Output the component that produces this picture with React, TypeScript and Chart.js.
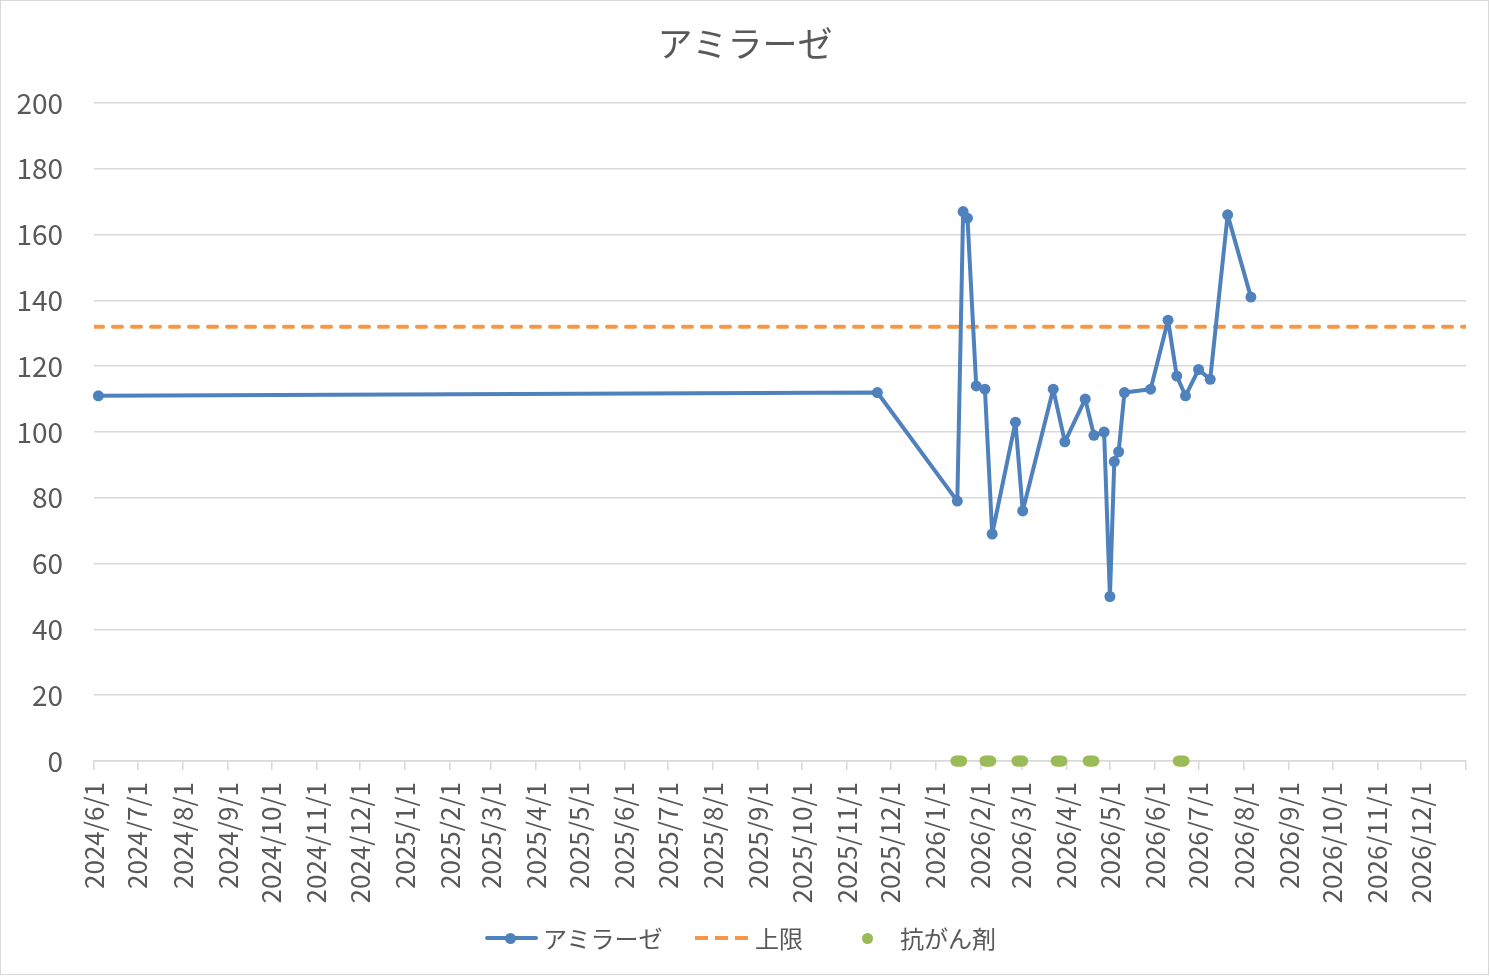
import { useEffect, useRef } from "react";
import { Chart, registerables } from "chart.js";

Chart.register(...registerables);

// アミラーゼ measurements
const amylaseDates = [
  "2024/6/4", "2025/11/22", "2026/1/16", "2026/1/20", "2026/1/23", "2026/1/29",
  "2026/2/4", "2026/2/9", "2026/2/25", "2026/3/2", "2026/3/23", "2026/3/31",
  "2026/4/14", "2026/4/20", "2026/4/27", "2026/5/1", "2026/5/4", "2026/5/7",
  "2026/5/11", "2026/5/29", "2026/6/10", "2026/6/16", "2026/6/22", "2026/7/1",
  "2026/7/9", "2026/7/21", "2026/8/6",
];
const amylaseValues = [
  111, 112, 79, 167, 165, 114,
  113, 69, 103, 76, 113, 97,
  110, 99, 100, 50, 91, 94,
  112, 113, 134, 117, 111, 119,
  116, 166, 141,
];

// 上限
const upperLimit = 132;

// 抗がん剤 administration days (plotted at 0)
const chemoDates = [
  "2026/1/15", "2026/1/16", "2026/1/17", "2026/1/18", "2026/1/19",
  "2026/2/4", "2026/2/5", "2026/2/6", "2026/2/7", "2026/2/8",
  "2026/2/26", "2026/2/27", "2026/2/28", "2026/3/1", "2026/3/2",
  "2026/3/25", "2026/3/26", "2026/3/27", "2026/3/28", "2026/3/29",
  "2026/4/16", "2026/4/17", "2026/4/18", "2026/4/19", "2026/4/20",
  "2026/6/17", "2026/6/18", "2026/6/19", "2026/6/20", "2026/6/21",
];

const monthTicks = [
  "2024/6/1", "2024/7/1", "2024/8/1", "2024/9/1", "2024/10/1", "2024/11/1", "2024/12/1",
  "2025/1/1", "2025/2/1", "2025/3/1", "2025/4/1", "2025/5/1", "2025/6/1", "2025/7/1",
  "2025/8/1", "2025/9/1", "2025/10/1", "2025/11/1", "2025/12/1",
  "2026/1/1", "2026/2/1", "2026/3/1", "2026/4/1", "2026/5/1", "2026/6/1", "2026/7/1",
  "2026/8/1", "2026/9/1", "2026/10/1", "2026/11/1", "2026/12/1",
];
const axisStart = "2024/6/1";
const axisEnd = "2027/1/1";

const toDay = (s: string) => {
  const [y, m, d] = s.split("/").map(Number);
  const [y0, m0, d0] = axisStart.split("/").map(Number);
  return (Date.UTC(y, m - 1, d) - Date.UTC(y0, m0 - 1, d0)) / 86400000;
};

const FONT = "'Noto Sans CJK JP', 'Noto Sans', sans-serif";
const TEXT = "#595959";
const BLUE = "#4F81BD";
const ORANGE = "#F79646";
const GREEN = "#9BBB59";

export default function App() {
  const chartRef = useRef<HTMLCanvasElement>(null);
  const chartInstance = useRef<Chart | null>(null);

  useEffect(() => {
    if (!chartRef.current) return;
    if (chartInstance.current) chartInstance.current.destroy();

    const endDay = toDay(axisEnd);

    chartInstance.current = new Chart(chartRef.current, {
      type: "line",
      data: {
        datasets: [
          {
            label: "アミラーゼ",
            data: amylaseDates.map((d, i) => ({ x: toDay(d), y: amylaseValues[i] })),
            borderColor: BLUE,
            backgroundColor: BLUE,
            borderWidth: 4,
            borderJoinStyle: "round",
            borderCapStyle: "round",
            pointRadius: 5.5,
            pointBackgroundColor: BLUE,
            pointBorderWidth: 0,
            tension: 0,
            clip: false,
          },
          {
            label: "上限",
            data: [
              { x: 0, y: upperLimit },
              { x: endDay, y: upperLimit },
            ],
            borderColor: ORANGE,
            borderWidth: 4,
            borderDash: [9, 10],
            borderCapStyle: "round",
            pointRadius: 0,
          },
          {
            label: "抗がん剤",
            data: chemoDates.map((d) => ({ x: toDay(d), y: 0 })),
            showLine: false,
            pointRadius: 5.5,
            pointBorderWidth: 0,
            pointBackgroundColor: GREEN,
            backgroundColor: GREEN,
            borderColor: GREEN,
            clip: false,
          },
        ],
      },
      options: {
        responsive: true,
        maintainAspectRatio: false,
        animation: false,
        layout: { padding: 0 },
        plugins: {
          legend: { display: false },
          tooltip: { enabled: false },
          title: {
            display: true,
            text: "アミラーゼ",
            color: TEXT,
            font: { family: FONT, size: 35, weight: "normal" },
            padding: { top: 23, bottom: 38 },
          },
        },
        scales: {
          x: {
            type: "linear",
            min: 0,
            max: endDay,
            afterBuildTicks: (scale: any) => {
              scale.ticks = [...monthTicks, axisEnd].map((l) => ({ value: toDay(l) }));
            },
            afterFit: (scale: any) => {
              scale.height = 215;
              scale.paddingLeft = 0;
              scale.paddingRight = 24;
            },
            ticks: {
              autoSkip: false,
              minRotation: 90,
              maxRotation: 90,
              padding: 12,
              color: TEXT,
              font: { family: FONT, size: 26 },
              callback: (_v: any, i: number) => (i < monthTicks.length ? monthTicks[i] : ""),
            },
            grid: {
              drawOnChartArea: false,
              drawTicks: true,
              tickLength: 9,
              color: "#D9D9D9",
              lineWidth: 1.5,
            },
            border: { color: "#D9D9D9", width: 1.5 },
          },
          y: {
            min: 0,
            max: 200,
            afterFit: (scale: any) => {
              scale.width = 94;
            },
            ticks: {
              stepSize: 20,
              padding: 31,
              color: TEXT,
              font: { family: FONT, size: 28 },
            },
            grid: { color: "#D9D9D9", lineWidth: 1.5, drawTicks: false },
            border: { display: false },
          },
        },
      },
    });

    return () => {
      if (chartInstance.current) {
        chartInstance.current.destroy();
        chartInstance.current = null;
      }
    };
  }, []);

  const legendText = {
    position: "absolute" as const,
    top: 920,
    fontFamily: FONT,
    fontSize: 24,
    lineHeight: "36px",
    color: TEXT,
    whiteSpace: "nowrap" as const,
  };

  return (
    <div style={{ position: "absolute", left: 0, top: 0, width: 1490, height: 976, background: "#fff" }}>
      <canvas ref={chartRef}></canvas>
      <div
        style={{
          position: "absolute",
          left: 0,
          top: 0,
          width: 1489,
          height: 975,
          boxSizing: "border-box",
          border: "1.5px solid #D9D9D9",
          pointerEvents: "none",
        }}
      />
      {/* legend */}
      <div style={{ position: "absolute", left: 485, top: 936, width: 53, height: 4, background: BLUE, borderRadius: 2 }} />
      <div style={{ position: "absolute", left: 505, top: 933, width: 11, height: 11, background: BLUE, borderRadius: "50%" }} />
      <div style={{ ...legendText, left: 543 }}>アミラーゼ</div>
      <div
        style={{
          position: "absolute",
          left: 695,
          top: 936,
          width: 54,
          height: 4,
          background: `repeating-linear-gradient(90deg, ${ORANGE} 0 13px, transparent 13px 20px)`,
        }}
      />
      <div style={{ ...legendText, left: 755 }}>上限</div>
      <div style={{ position: "absolute", left: 862, top: 933, width: 11, height: 11, background: GREEN, borderRadius: "50%" }} />
      <div style={{ ...legendText, left: 900 }}>抗がん剤</div>
    </div>
  );
}
